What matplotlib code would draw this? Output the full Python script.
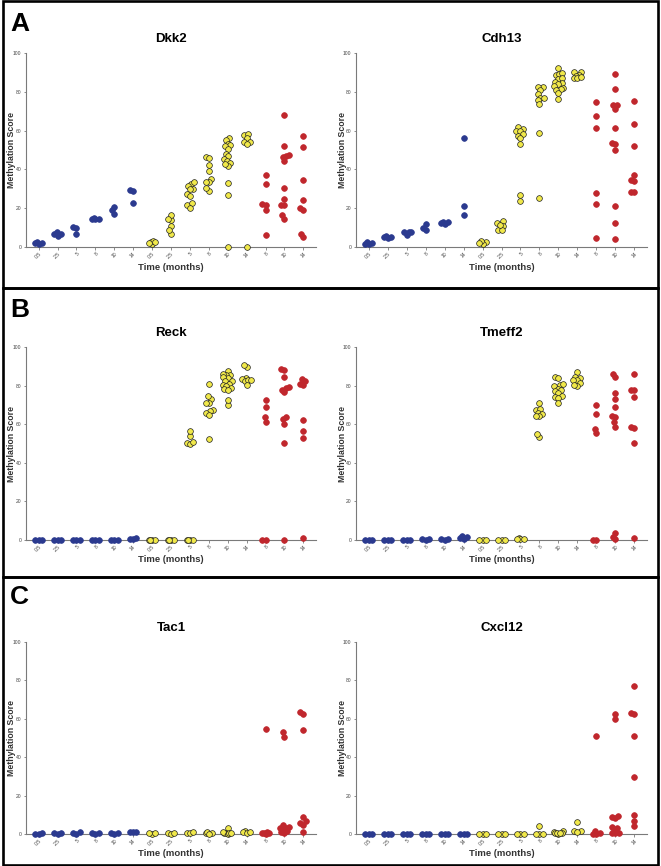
import numpy as np
import matplotlib
matplotlib.use("Agg")
import matplotlib.pyplot as plt
from matplotlib.patches import Rectangle

plt.rcParams['font.family'] = ['Liberation Sans', 'DejaVu Sans']

tick_labels = ["0.5", "2.5", "5", "8", "10", "14", "0.5", "2.5", "5", "8", "10", "14", "8", "10", "14"]
group_colors = ["blue"] * 6 + ["yellow"] * 6 + ["red"] * 3

# ---- Dkk2 ----
dkk2 = [
    [2.5, 1.5, 2.2, 2.0],
    [7.7, 5.8, 6.5, 6.8],
    [6.5, 10.1, 10.0],
    [14.6, 14.4, 14.5, 14.7],
    [17.2, 20.6, 18.9],
    [29.4, 28.7, 22.9],
    [2.6, 1.4, 2.9, 2.0, 2.4],
    [6.9, 13.7, 16.7, 14.6, 11.0, 8.6],
    [32.3, 33.5, 31.5, 30.0, 29.7, 27.5, 26.3, 21.6, 22.5, 20.3],
    [46.4, 45.9, 39.0, 42.1, 35.0, 33.5, 33.7, 29.0, 30.6],
    [56.2, 55.0, 53.0, 52.4, 52.2, 50.7, 48.1, 46.7, 45.5, 44.3, 43.3, 41.8, 42.6, 33.0, 27.0, 0.0],
    [57.6, 58.4, 56.2, 54.1, 54.0, 53.0, 0.0],
    [37.1, 32.6, 21.8, 22.0, 19.1, 6.4],
    [67.9, 52.0, 47.3, 46.7, 46.5, 44.3, 30.4, 24.9, 21.8, 21.5, 16.3, 14.3],
    [57.0, 51.5, 34.4, 24.4, 19.9, 19.1, 5.0, 6.5],
]

# ---- Cdh13 ----
cdh13 = [
    [2.7, 1.7, 1.5, 2.0],
    [5.8, 4.8, 5.3, 5.0],
    [7.9, 6.0, 7.9, 7.5],
    [11.7, 8.6, 9.6],
    [12.9, 12.0, 12.9, 12.4],
    [56.2, 21.1, 16.7],
    [2.7, 1.7, 2.9, 2.2],
    [13.4, 10.7, 8.6, 8.6, 12.4, 11.5],
    [61.7, 61.0, 59.8, 59.6, 58.0, 57.4, 56.2, 53.3, 23.7, 26.8],
    [82.5, 82.5, 80.8, 78.7, 76.8, 77.0, 75.6, 73.5, 58.9, 25.4],
    [92.3, 88.5, 89.3, 89.9, 86.8, 87.3, 84.7, 85.0, 84.2, 82.8, 82.0, 81.3, 81.1, 79.4, 76.5],
    [90.2, 90.2, 88.5, 88.0, 87.3, 87.1, 87.6],
    [74.9, 67.5, 61.2, 27.7, 22.0, 4.6],
    [89.3, 81.6, 73.4, 73.2, 71.3, 61.5, 53.3, 53.5, 49.8, 21.0, 12.5, 4.0],
    [75.3, 63.6, 51.9, 34.4, 33.8, 37.3, 28.4, 28.4],
]

# ---- Reck ----
reck = [
    [0.0, 0.0, 0.0],
    [0.0, 0.0, 0.0],
    [0.0, 0.0, 0.0],
    [0.0, 0.0, 0.0],
    [0.0, 0.0, 0.0],
    [0.9, 0.3, 0.7],
    [0.0, 0.0, 0.0, 0.0],
    [0.0, 0.0, 0.0, 0.0],
    [0.0, 0.0, 0.0, 0.0, 54.0, 56.6, 50.5, 49.8, 51.0],
    [80.8, 73.0, 74.6, 70.9, 70.9, 67.5, 67.0, 65.7, 64.7, 52.2],
    [87.7, 85.6, 85.6, 86.2, 83.9, 84.4, 82.2, 82.2, 80.4, 80.8, 79.9, 78.7, 78.2, 77.9, 69.9, 72.5],
    [89.4, 90.5, 83.9, 83.6, 82.2, 82.7, 80.1, 83.0],
    [72.7, 68.7, 63.7, 61.2, 0.0, 0.0],
    [88.8, 88.2, 84.3, 79.1, 77.9, 78.7, 76.6, 63.5, 62.6, 60.2, 50.5, 0.0],
    [82.2, 83.4, 80.1, 81.0, 62.3, 56.6, 52.6, 0.9],
]

# ---- Tmeff2 ----
tmeff2 = [
    [0.0, 0.0, 0.0],
    [0.0, 0.0, 0.0],
    [0.0, 0.0, 0.0],
    [0.3, 0.4, 0.2],
    [0.3, 0.5, 0.2],
    [2.2, 0.9, 1.4, 0.5],
    [0.0, 0.0, 0.0],
    [0.0, 0.0, 0.0],
    [0.8, 0.4, 0.5, 0.6],
    [70.9, 67.5, 68.0, 65.7, 65.4, 64.0, 64.4, 53.5, 54.7],
    [84.3, 83.9, 80.4, 80.8, 79.6, 78.2, 77.5, 77.3, 76.1, 74.0, 74.4, 73.5, 70.9],
    [87.0, 84.3, 83.9, 82.7, 82.7, 81.3, 79.9, 80.4],
    [70.0, 65.2, 57.6, 55.4, 0.0, 0.2],
    [84.6, 86.2, 76.0, 73.2, 68.9, 64.4, 63.7, 60.9, 58.5, 3.8, 1.7, 0.3],
    [86.0, 77.5, 77.9, 74.2, 57.8, 58.5, 50.5, 0.9],
]

# ---- Tac1 ----
tac1 = [
    [0.2, 0.1, 0.3],
    [0.7, 0.3, 0.2],
    [0.8, 0.3, 0.2],
    [0.3, 0.2, 0.4],
    [0.4, 0.2, 0.3],
    [1.2, 1.0, 1.1],
    [0.2, 0.3, 0.4],
    [0.3, 0.2, 0.5],
    [0.7, 0.3, 0.8],
    [0.3, 0.9, 0.5, 0.2],
    [2.9, 0.5, 0.3, 0.8, 0.2, 0.6, 0.4],
    [1.7, 0.9, 0.3, 1.1],
    [54.6, 0.8, 0.3, 0.5, 0.6, 0.2],
    [50.6, 52.9, 4.7, 2.9, 3.1, 2.1, 1.2, 1.7, 0.7, 3.5],
    [62.7, 63.6, 54.4, 8.7, 6.6, 5.7, 4.7, 0.9],
]

# ---- Cxcl12 ----
cxcl12 = [
    [0.0, 0.0, 0.0],
    [0.0, 0.0, 0.0],
    [0.0, 0.0, 0.0],
    [0.0, 0.0, 0.0],
    [0.0, 0.0, 0.0],
    [0.0, 0.0, 0.0],
    [0.0, 0.0, 0.0],
    [0.0, 0.0, 0.0],
    [0.0, 0.0, 0.0],
    [4.3, 0.0, 0.0, 0.0],
    [1.7, 0.9, 0.3, 0.2, 0.5, 0.3, 0.6],
    [6.4, 1.7, 1.7, 0.9],
    [51.1, 1.7, 0.3, 0.0, 0.2],
    [62.4, 59.8, 9.4, 8.7, 8.3, 3.8, 3.3, 1.7, 0.7, 0.7, 0.3],
    [77.3, 62.4, 63.1, 51.3, 29.8, 10.0, 6.6, 4.0],
]

genes = [("Dkk2", dkk2), ("Cdh13", cdh13), ("Reck", reck),
         ("Tmeff2", tmeff2), ("Tac1", tac1), ("Cxcl12", cxcl12)]

face = {"blue": "#2b3a8f", "yellow": "#f0e84a", "red": "#c0272d"}
edge = {"blue": "#2b3a8f", "yellow": "#222222", "red": "#c0272d"}

W, H = 661, 866
fig = plt.figure(figsize=(W / 100, H / 100), dpi=100)

# axes rectangles in pixels
rows_px = [(53, 247), (347, 540), (642, 834)]
cols_px = [(26, 316), (356, 647)]

DX, DY = 3.3, 5.0   # anisotropic collision extents (pixels)
MAXOFF = 4.6        # maximum horizontal spread (pixels)


def swarm_offsets(ypix):
    order = np.argsort(ypix)
    placed = []
    offs = np.zeros(len(ypix))
    grid = np.linspace(-MAXOFF, MAXOFF, 23)
    for i in order:
        y = ypix[i]
        cands = [0.0]
        for (px, py) in placed:
            dy = abs(py - y)
            if dy < DY:
                dx = DX * np.sqrt(1 - (dy / DY) ** 2)
                cands += [px + dx, px - dx]
        cands = [cc for cc in cands if abs(cc) <= MAXOFF + 1e-6]
        cands = sorted(cands, key=lambda c: (abs(c), c))
        chosen = None
        for c in cands:
            ok = True
            for (px, py) in placed:
                if ((px - c) / DX) ** 2 + ((py - y) / DY) ** 2 < 1 - 1e-6:
                    ok = False
                    break
            if ok:
                chosen = c
                break
        if chosen is None:
            best, bestd = 0.0, -1
            for c in grid:
                d = min(((px - c) / DX) ** 2 + ((py - y) / DY) ** 2 for (px, py) in placed)
                if d > bestd + 1e-9:
                    best, bestd = c, d
            chosen = best
        offs[i] = chosen
        placed.append((chosen, y))
    return offs


for gi, (name, data) in enumerate(genes):
    r, c = divmod(gi, 2)
    top, bot = rows_px[r]
    left, right = cols_px[c]
    ax = fig.add_axes([left / W, 1 - bot / H, (right - left) / W, (bot - top) / H])
    ax.set_xlim(-0.67, 14.67)
    ax.set_ylim(0, 100)
    ax.set_yticks([0, 20, 40, 60, 80, 100])
    ax.set_xticks(range(len(tick_labels)))
    ax.set_xticklabels(tick_labels, rotation=45, ha='right', rotation_mode='anchor')
    for s in ['top', 'right']:
        ax.spines[s].set_visible(False)
    for s in ['left', 'bottom']:
        ax.spines[s].set_color('#7a7a7a')
        ax.spines[s].set_linewidth(0.8)
    ax.tick_params(axis='both', labelsize=3.6, length=1.8, width=0.6,
                   colors='#7a7a7a', labelcolor='#444444', pad=1.5)
    ax.set_title(name, fontsize=9.5, fontweight='bold', pad=8)
    ax.set_xlabel("Time (months)", fontsize=6.8, fontweight='bold', color='#333333', va='center')
    ax.xaxis.set_label_coords(0.5, -20 / (bot - top))
    ax.set_ylabel("Methylation Score", fontsize=6.3, fontweight='bold', color='#333333', va='center')
    ax.yaxis.set_label_coords(-14 / (right - left), 0.5)

    fig.canvas.draw()
    trans = ax.transData
    inv = trans.inverted()
    for k, vals in enumerate(data):
        vals = np.asarray(vals, dtype=float)
        pts = trans.transform(np.column_stack([np.full(len(vals), k), vals]))
        offs = swarm_offsets(pts[:, 1])
        xd = inv.transform(np.column_stack([pts[:, 0] + offs, pts[:, 1]]))[:, 0]
        col = group_colors[k]
        ax.scatter(xd, vals, s=17, c=face[col], edgecolors=edge[col],
                   linewidths=0.5, zorder=3, clip_on=False)

# panel frames
bounds_y = [1.5, 288, 577, 864.5]
for i in range(3):
    y0, y1 = bounds_y[i], bounds_y[i + 1]
    fig.add_artist(Rectangle((3 / W, 1 - y1 / H), (658 - 3) / W, (y1 - y0) / H,
                             transform=fig.transFigure, fill=False,
                             edgecolor='black', linewidth=1.9))

letters = [("A", 24), ("B", 310), ("C", 597)]
for L, yp in letters:
    fig.text(10 / W, 1 - yp / H, L, fontsize=19, fontweight='bold', va='center', ha='left')

fig.savefig("out.png", dpi=100)
